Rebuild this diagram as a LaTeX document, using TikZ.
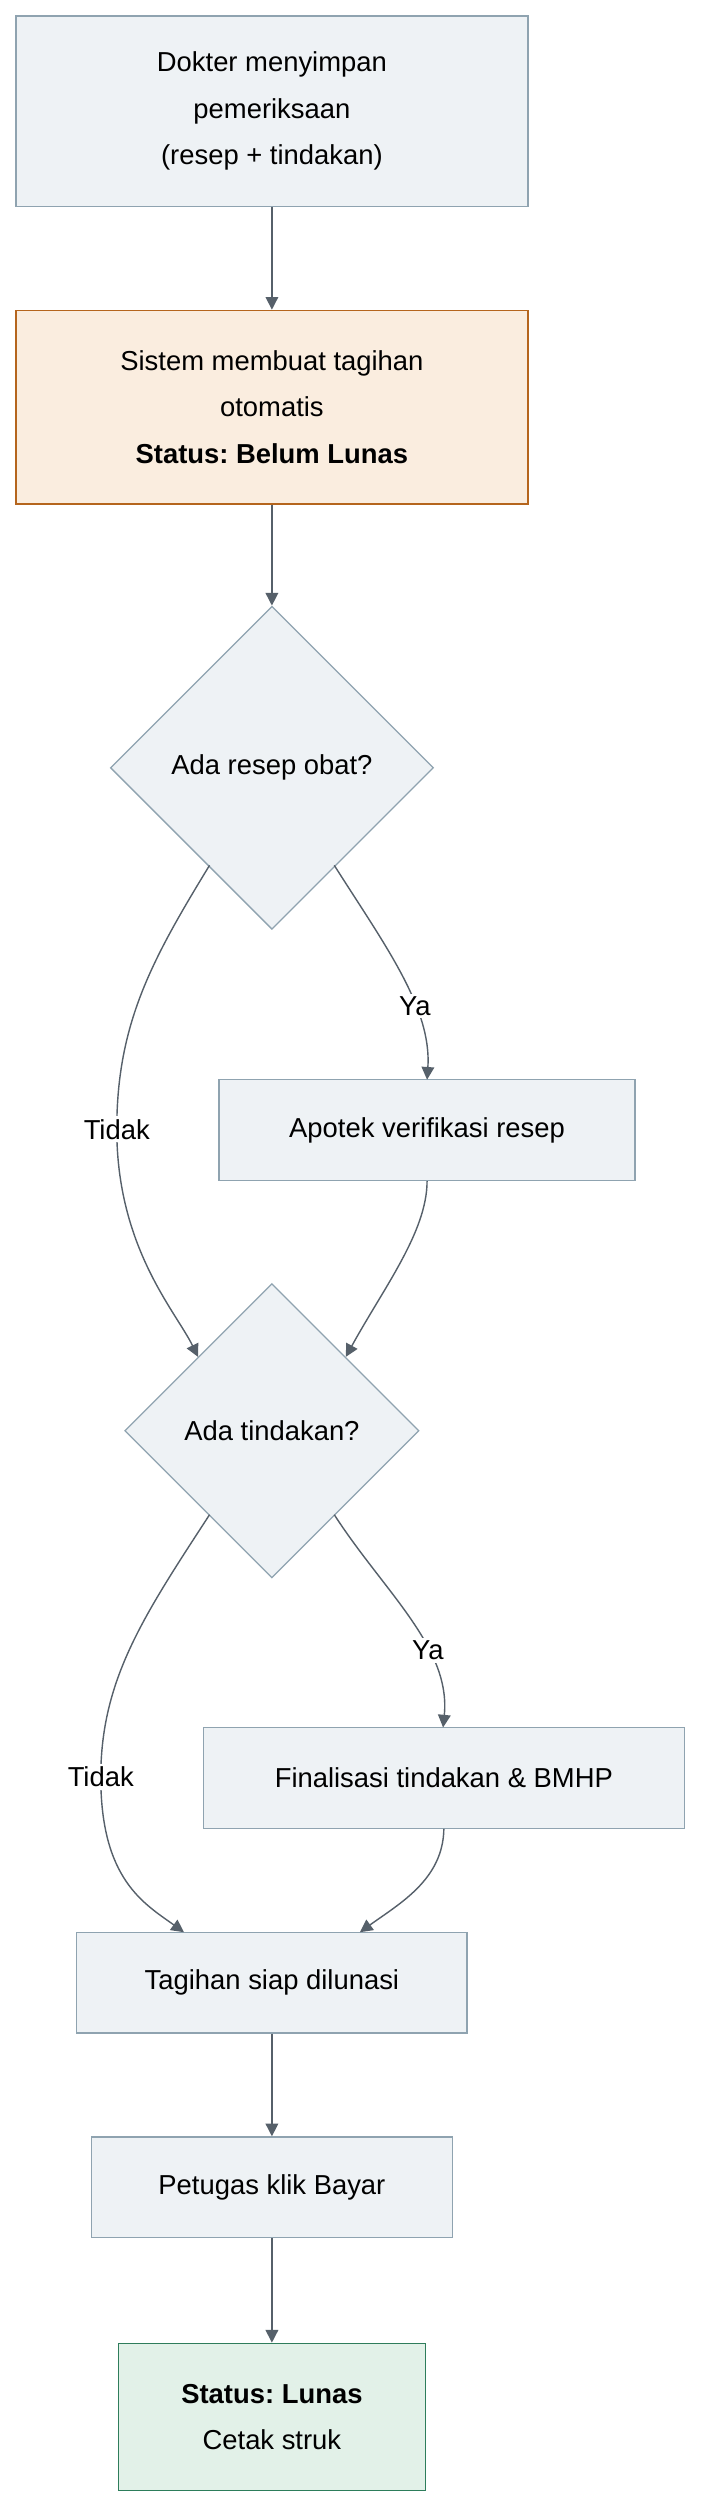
\documentclass[tikz,border=0pt]{standalone}
\usepackage{fontspec}
\setmainfont{Liberation Sans}
\usetikzlibrary{arrows.meta,positioning,shapes.geometric}
\definecolor{boxfill}{HTML}{EEF2F5}
\definecolor{boxline}{HTML}{8FA3B0}
\definecolor{startfill}{HTML}{FAEDDF}
\definecolor{startline}{HTML}{B5651D}
\definecolor{endfill}{HTML}{E2F1E8}
\definecolor{endline}{HTML}{2E7D5B}
\definecolor{edgecol}{HTML}{56606A}
\tikzset{
  box/.style={draw=boxline, fill=boxfill, line width=0.9pt, align=center, inner sep=0pt},
  step/.style={box, minimum width=#1*0.04cm, minimum height=2.52cm},
  decision/.style={draw=boxline, fill=boxfill, line width=0.9pt, diamond, aspect=1, align=center, inner sep=0pt, minimum width=#1*0.04cm, minimum height=#1*0.04cm},
  flow/.style={draw=edgecol, line width=1pt, -{Triangle[length=9pt,width=9pt]}},
  lbl/.style={fill=white, inner sep=2pt}
}
\begin{document}
\frenchspacing
\begin{tikzpicture}[x=0.04cm, y=-0.04cm, font=\fontsize{19.5}{33}\selectfont]
\useasboundingbox[fill=white] (0,0) rectangle (438,1568);

% nodes
\node[box, minimum width=12.8cm, minimum height=4.76cm] (dokter) at (170,69.5) {Dokter menyimpan\\pemeriksaan\\(resep + tindakan)};
\node[box, draw=startline, fill=startfill, minimum width=12.8cm, minimum height=4.84cm] (tagihan) at (170,254.5) {Sistem membuat tagihan\\otomatis\\\textbf{Status: Belum Lunas}};
\node[decision=202] (resep) at (170,480) {Ada resep obat?};
\node[step=260] (apotek) at (267,706.5) {Apotek verifikasi resep};
\node[decision=184] (tindakan) at (170,894.5) {Ada tindakan?};
\node[step=301] (final) at (277.5,1111.5) {Finalisasi tindakan \& BMHP};
\node[step=244] (siap) at (170,1239.5) {Tagihan siap dilunasi};
\node[step=226] (bayar) at (170,1367.5) {Petugas klik Bayar};
\node[box, draw=endline, fill=endfill, minimum width=7.68cm, minimum height=3.68cm] (lunas) at (170,1511) {\textbf{Status: Lunas}\\Cetak struk};

% connectors
\draw[flow] (tagihan) -- (resep);
\draw[flow] (dokter) -- (tagihan);
\draw[flow] (131,541) .. controls (95,600) and (73,640) .. (73,706) node[lbl] {Tidak} .. controls (73,780) and (110,820) .. (tindakan.north west);
\draw[flow] (209,541) .. controls (240,590) and (270,630) .. (267,675) node[lbl, pos=0.65] {Ya};
\draw[flow] (apotek.south) .. controls (267,770) and (240,805) .. (tindakan.north east);
\draw[flow] (131,947) .. controls (90,1010) and (63,1050) .. (63,1111) node[lbl] {Tidak} .. controls (63,1175) and (90,1190) .. (115,1208);
\draw[flow] (209,947) .. controls (240,995) and (282,1030) .. (277,1080) node[lbl, pos=0.65] {Ya};
\draw[flow] (final.south) .. controls (277,1175) and (250,1190) .. (225,1208);
\draw[flow] (siap) -- (bayar);
\draw[flow] (bayar) -- (lunas);
\end{tikzpicture}
\end{document}
